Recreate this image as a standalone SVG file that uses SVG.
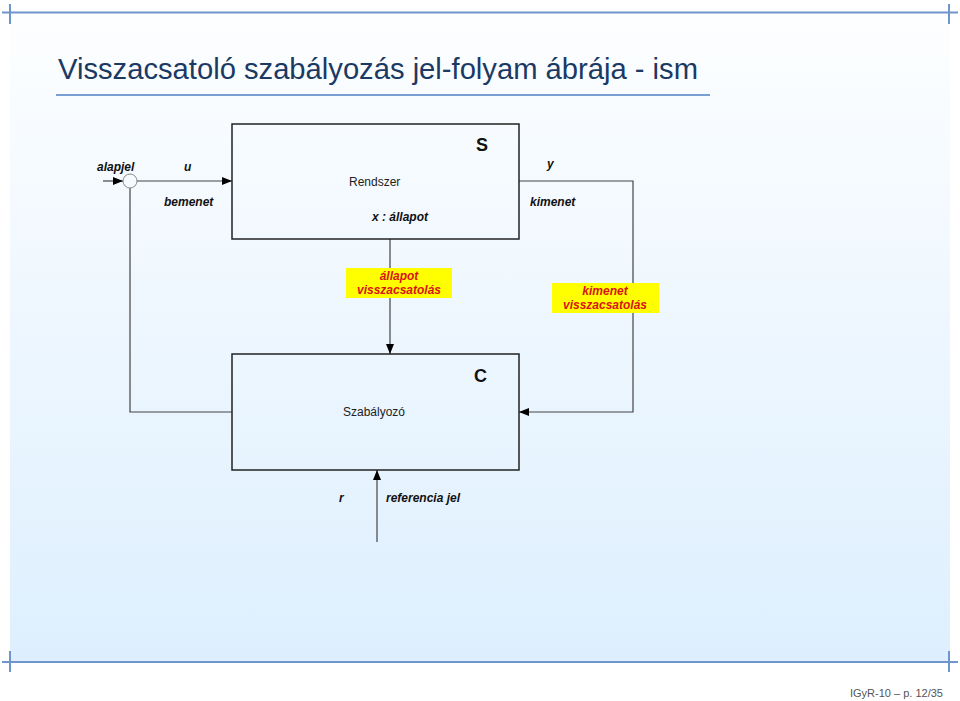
<svg xmlns="http://www.w3.org/2000/svg" width="960" height="701" viewBox="0 0 960 701">
<defs>
<linearGradient id="bg" x1="0" y1="0" x2="0" y2="1">
<stop offset="0" stop-color="#fdfeff"/>
<stop offset="1" stop-color="#ddeffe"/>
</linearGradient>
<marker id="ar" viewBox="0 0 10 10" refX="10" refY="5" markerWidth="10" markerHeight="10" markerUnits="userSpaceOnUse" orient="auto">
<path d="M0,1 L10,5 L0,9 Z" fill="#000"/>
</marker>
<style>
.frame{stroke:#6f95cc;stroke-width:2;fill:none}
.box{fill:none;stroke:#222;stroke-width:1.5}
.ln{fill:none;stroke:#444;stroke-width:1.2}
.lab{font-family:"Liberation Sans",Arial,sans-serif;font-size:12px;font-style:italic;font-weight:bold;fill:#111}
.plain{font-family:"Liberation Sans",Arial,sans-serif;font-size:12px;fill:#222}
.big{font-family:"Liberation Sans",Arial,sans-serif;font-size:18px;font-weight:bold;fill:#111}
.tag{fill:#ffff00}
.red{font-family:"Liberation Sans",Arial,sans-serif;font-size:12px;font-style:italic;font-weight:bold;fill:#d8141a;text-anchor:middle}
</style>
</defs>
<rect x="0" y="0" width="960" height="701" fill="#ffffff"/>
<rect x="10" y="13" width="940" height="649" fill="url(#bg)"/>
<g id="frame">
<line class="frame" x1="2" y1="12.5" x2="958" y2="12.5"/>
<line class="frame" x1="10" y1="4" x2="10" y2="24"/>
<line class="frame" x1="949" y1="4" x2="949" y2="24"/>
<line class="frame" x1="2" y1="662" x2="958" y2="662"/>
<line class="frame" x1="10" y1="651" x2="10" y2="672"/>
<line class="frame" x1="949" y1="651" x2="949" y2="672"/>
</g>
<g id="title">
<text x="58" y="79" font-family="Liberation Sans,Arial,sans-serif" font-size="30" fill="#1b3a63" textLength="640" lengthAdjust="spacingAndGlyphs">Visszacsatoló szabályozás jel-folyam ábrája - ism</text>
<line x1="56" y1="95" x2="710" y2="95" stroke="#7a9fd2" stroke-width="2"/>
</g>
<g id="connectors">
<line class="ln" x1="103" y1="181" x2="123" y2="181" marker-end="url(#ar)"/>
<line class="ln" x1="137" y1="181" x2="232" y2="181" marker-end="url(#ar)"/>
<polyline class="ln" points="130,188 130,412 232,412"/>
<polyline class="ln" points="519,181 633,181 633,412 519,412" marker-end="url(#ar)"/>
<line class="ln" x1="390" y1="239" x2="390" y2="354" marker-end="url(#ar)" stroke="#111"/>
<line class="ln" x1="377" y1="542" x2="377" y2="470" marker-end="url(#ar)"/>
</g>
<g id="sum">
<circle cx="130" cy="181" r="7" fill="none" stroke="#888" stroke-width="1"/>
</g>
<g id="node-S">
<rect class="box" x="232" y="124" width="287" height="115"/>
<text class="big" x="476" y="151">S</text>
<text class="plain" x="349" y="186">Rendszer</text>
<text class="lab" x="372" y="221">x : állapot</text>
</g>
<g id="node-C">
<rect class="box" x="232" y="354" width="287" height="116"/>
<text class="big" x="474" y="382">C</text>
<text class="plain" x="343" y="416">Szabályozó</text>
</g>
<g id="labels">
<text class="lab" x="97" y="171">alapjel</text>
<text class="lab" x="184" y="171">u</text>
<text class="lab" x="164" y="206">bemenet</text>
<text class="lab" x="547" y="168">y</text>
<text class="lab" x="530" y="206">kimenet</text>
<text class="lab" x="339" y="502">r</text>
<text class="lab" x="386" y="502">referencia jel</text>
</g>
<g id="tag-allapot">
<rect class="tag" x="346" y="268" width="106" height="30"/>
<text class="red" x="399" y="280">állapot</text>
<text class="red" x="399" y="294">visszacsatolás</text>
</g>
<g id="tag-kimenet">
<rect class="tag" x="552" y="283" width="107" height="30"/>
<text class="red" x="605" y="295">kimenet</text>
<text class="red" x="605" y="309">visszacsatolás</text>
</g>
<text x="850" y="697" font-family="Liberation Sans,Arial,sans-serif" font-size="11" fill="#555">IGyR-10 – p. 12/35</text>
</svg>
